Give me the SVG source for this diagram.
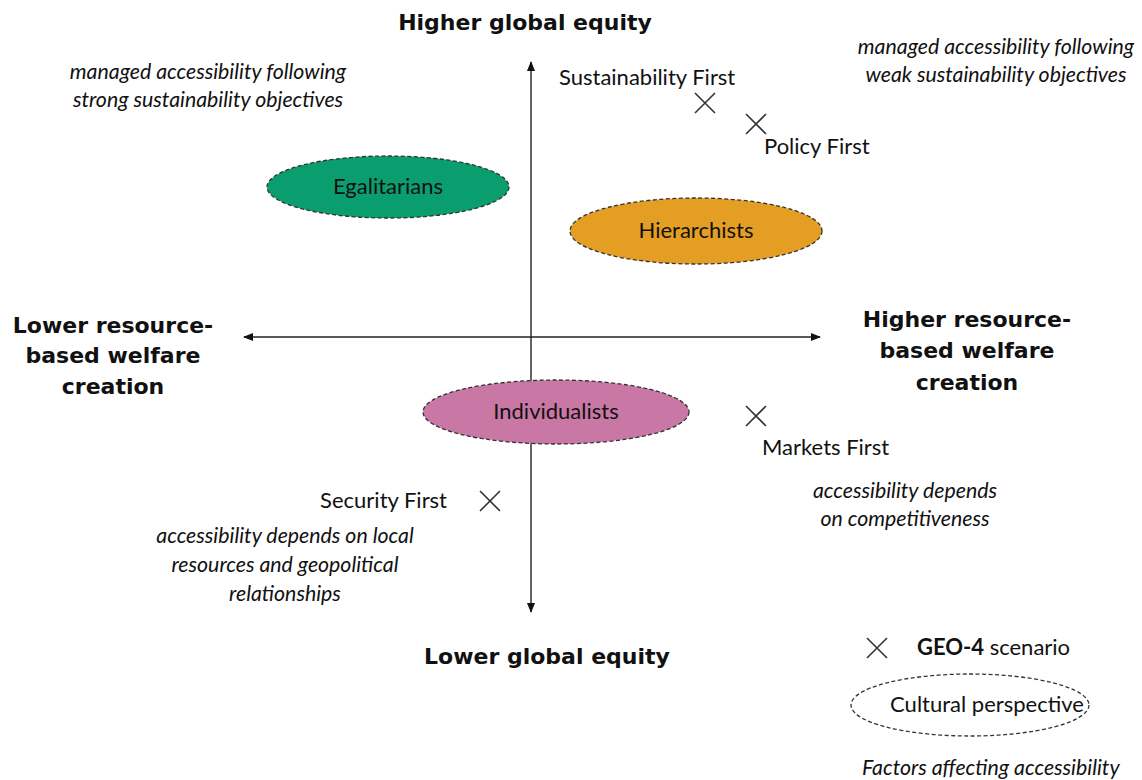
<svg xmlns="http://www.w3.org/2000/svg" width="1142" height="780" viewBox="0 0 1142 780">
<style>
text{font-family:Lato,"Open Sans","DejaVu Sans",sans-serif;fill:#111}
.b{font-family:"DejaVu Sans",Lato,sans-serif;font-weight:bold;font-size:22px}
.n{font-size:22px}
.i{font-style:italic;font-size:21.3px}
.ell{stroke:#333;stroke-width:1.3;stroke-dasharray:4 2.5}
.x{stroke:#333;stroke-width:1.6;fill:none}
.ax{stroke:#222;stroke-width:1.4;fill:none}
</style>
<defs>
<marker id="ah" viewBox="0 0 10 10" refX="9" refY="5" markerWidth="10" markerHeight="10" markerUnits="userSpaceOnUse" orient="auto-start-reverse">
<path d="M0,1 L10,5 L0,9 z" fill="#111"/>
</marker>
<path id="xm" d="M-10,-10 L10,10 M-10,10 L10,-10"/>
</defs>
<rect width="1142" height="780" fill="#fff"/>
<g id="connectors">
<line class="ax" x1="531" y1="62" x2="531" y2="612" marker-start="url(#ah)" marker-end="url(#ah)"/>
<line class="ax" x1="244" y1="337" x2="820" y2="337" marker-start="url(#ah)" marker-end="url(#ah)"/>
</g>
<g id="axis-labels">
<text class="b" x="525" y="30" text-anchor="middle">Higher global equity</text>
<text class="b" x="547" y="664" text-anchor="middle">Lower global equity</text>
<text class="b" text-anchor="middle"><tspan x="113" y="333">Lower resource-</tspan><tspan x="113" y="363">based welfare</tspan><tspan x="113" y="394">creation</tspan></text>
<text class="b" text-anchor="middle"><tspan x="967" y="327">Higher resource-</tspan><tspan x="967" y="358">based welfare</tspan><tspan x="967" y="390">creation</tspan></text>
</g>
<g id="egalitarians">
<ellipse class="ell" cx="388" cy="187" rx="121" ry="31" fill="#0a9e6e"/>
<text class="n" x="388" y="194" text-anchor="middle">Egalitarians</text>
</g>
<g id="hierarchists">
<ellipse class="ell" cx="696" cy="231" rx="126" ry="33" fill="#e59e24"/>
<text class="n" x="696" y="238" text-anchor="middle">Hierarchists</text>
</g>
<g id="individualists">
<ellipse class="ell" cx="556" cy="412" rx="133" ry="32" fill="#c977a4"/>
<text class="n" x="556" y="419" text-anchor="middle">Individualists</text>
</g>
<g id="sustainability-first">
<use href="#xm" class="x" x="705" y="103"/>
<text class="n" x="559" y="85">Sustainability First</text>
</g>
<g id="policy-first">
<use href="#xm" class="x" x="756" y="124"/>
<text class="n" x="764" y="154">Policy First</text>
</g>
<g id="markets-first">
<use href="#xm" class="x" x="756" y="416"/>
<text class="n" x="762" y="455">Markets First</text>
</g>
<g id="security-first">
<use href="#xm" class="x" x="490" y="501"/>
<text class="n" x="447" y="508" text-anchor="end">Security First</text>
</g>
<g id="notes">
<text class="i" text-anchor="middle"><tspan x="208" y="79">managed accessibility following</tspan><tspan x="208" y="107">strong sustainability objectives</tspan></text>
<text class="i" text-anchor="middle"><tspan x="996" y="54">managed accessibility following</tspan><tspan x="996" y="82">weak sustainability objectives</tspan></text>
<text class="i" text-anchor="middle"><tspan x="905" y="498">accessibility depends</tspan><tspan x="905" y="526">on competitiveness</tspan></text>
<text class="i" text-anchor="middle"><tspan x="285" y="543">accessibility depends on local</tspan><tspan x="285" y="572">resources and geopolitical</tspan><tspan x="285" y="601">relationships</tspan></text>
</g>
<g id="legend">
<use href="#xm" class="x" x="877" y="648"/>
<text class="n" x="917" y="655"><tspan font-weight="bold">GEO-4</tspan> scenario</text>
<ellipse class="ell" cx="970" cy="705" rx="119" ry="31" fill="none"/>
<text class="n" x="987" y="712" text-anchor="middle">Cultural perspective</text>
<text class="i" x="862" y="775">Factors affecting accessibility</text>
</g>
</svg>
